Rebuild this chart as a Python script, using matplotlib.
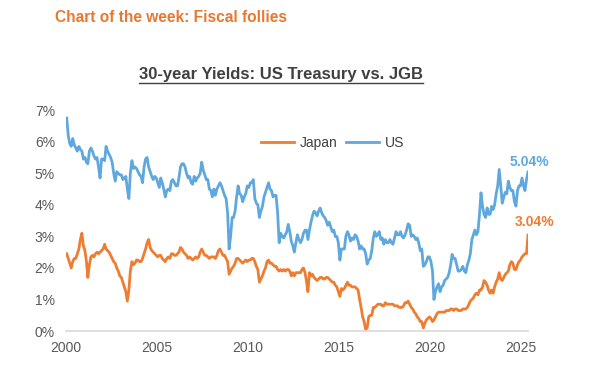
import numpy as np
import pandas as pd
import matplotlib
matplotlib.use('Agg')
import matplotlib.pyplot as plt
from matplotlib.lines import Line2D

plt.rcParams['font.family'] = ['Liberation Sans', 'DejaVu Sans']

# monthly readings, Jan 2000 .. May 2025 (mid-month)
dates = pd.date_range('2000-01-01', '2025-05-01', freq='MS') + pd.Timedelta(days=14)

us_yield = [
    6.75, 6.20, 5.95, 5.85, 6.10, 5.90, 5.80, 5.70, 5.85, 5.75, 5.70, 5.45,  # 2000
    5.50, 5.35, 5.30, 5.70, 5.80, 5.70, 5.55, 5.45, 5.50, 5.20, 4.85, 5.45,  # 2001
    5.45, 5.40, 5.85, 5.70, 5.60, 5.50, 5.35, 5.00, 4.75, 5.05, 5.00, 4.95,  # 2002
    4.95, 4.80, 4.85, 4.90, 4.50, 4.20, 5.00, 5.40, 5.15, 5.20, 5.15, 5.05,  # 2003
    4.95, 4.90, 4.70, 5.20, 5.45, 5.50, 5.20, 5.05, 4.90, 4.80, 4.90, 4.85,  # 2004
    4.70, 4.55, 4.85, 4.70, 4.50, 4.25, 4.45, 4.50, 4.45, 4.75, 4.80, 4.70,  # 2005
    4.60, 4.60, 4.85, 5.20, 5.30, 5.30, 5.20, 5.00, 4.85, 4.90, 4.70, 4.65,  # 2006
    4.90, 4.75, 4.85, 4.90, 5.00, 5.35, 5.10, 4.95, 4.80, 4.80, 4.50, 4.45,  # 2007
    4.25, 4.50, 4.30, 4.50, 4.60, 4.70, 4.60, 4.45, 4.30, 4.20, 3.75, 2.60,  # 2008
    3.00, 3.60, 3.60, 3.80, 4.25, 4.60, 4.35, 4.30, 4.10, 4.25, 4.35, 4.60,  # 2009
    4.55, 4.70, 4.70, 4.80, 4.20, 4.05, 4.00, 3.60, 3.80, 3.95, 4.25, 4.40,  # 2010
    4.55, 4.70, 4.50, 4.45, 4.25, 4.30, 4.30, 3.75, 2.80, 3.10, 3.00, 2.95,  # 2011
    3.05, 3.15, 3.38, 3.15, 2.85, 2.70, 2.50, 2.80, 3.05, 2.90, 2.80, 2.90,  # 2012
    3.10, 3.20, 3.20, 2.90, 3.20, 3.45, 3.65, 3.80, 3.75, 3.65, 3.80, 3.90,  # 2013
    3.75, 3.65, 3.60, 3.50, 3.35, 3.45, 3.30, 3.15, 3.20, 3.00, 3.00, 2.80,  # 2014
    2.25, 2.60, 2.60, 2.60, 3.00, 3.15, 3.05, 2.85, 2.95, 2.90, 3.05, 3.00,  # 2015
    2.85, 2.60, 2.70, 2.60, 2.60, 2.45, 2.12, 2.25, 2.30, 2.55, 2.95, 3.15,  # 2016
    3.00, 3.05, 3.15, 2.90, 2.95, 2.75, 2.90, 2.80, 2.80, 2.90, 2.80, 2.75,  # 2017
    2.95, 3.15, 3.05, 3.05, 3.15, 3.00, 2.95, 3.05, 3.20, 3.40, 3.35, 3.00,  # 2018
    3.05, 3.00, 2.90, 2.95, 2.80, 2.55, 2.60, 2.05, 2.10, 2.20, 2.35, 2.35,  # 2019
    2.20, 1.90, 1.00, 1.25, 1.40, 1.50, 1.25, 1.40, 1.45, 1.60, 1.65, 1.70,  # 2020
    1.85, 2.10, 2.43, 2.30, 2.30, 2.10, 1.90, 1.90, 1.95, 2.05, 1.90, 1.85,  # 2021
    2.10, 2.25, 2.45, 2.90, 3.05, 3.20, 3.05, 3.15, 3.70, 4.38, 3.95, 3.70,  # 2022
    3.60, 3.90, 3.70, 3.70, 3.95, 3.85, 4.00, 4.35, 4.60, 5.12, 4.60, 4.05,  # 2023
    4.25, 4.40, 4.35, 4.75, 4.55, 4.45, 4.45, 4.10, 3.96, 4.45, 4.60, 4.60,  # 2024
    4.85, 4.60, 4.45, 4.80, 5.04,                                            # 2025
]

japan_yield = [
    2.45, 2.30, 2.15, 2.00, 2.20, 2.30, 2.30, 2.45, 2.60, 2.90, 3.10, 2.70,  # 2000
    2.55, 2.20, 1.70, 2.10, 2.35, 2.40, 2.35, 2.45, 2.50, 2.45, 2.50, 2.55,  # 2001
    2.60, 2.75, 2.60, 2.55, 2.50, 2.40, 2.30, 2.20, 2.15, 2.00, 1.90, 1.75,  # 2002
    1.70, 1.55, 1.40, 1.25, 0.95, 1.30, 1.90, 2.20, 2.10, 2.15, 2.25, 2.25,  # 2003
    2.20, 2.20, 2.30, 2.45, 2.60, 2.80, 2.90, 2.65, 2.55, 2.50, 2.45, 2.40,  # 2004
    2.35, 2.40, 2.40, 2.30, 2.25, 2.20, 2.30, 2.35, 2.30, 2.45, 2.45, 2.40,  # 2005
    2.40, 2.45, 2.50, 2.65, 2.60, 2.50, 2.45, 2.40, 2.30, 2.35, 2.30, 2.25,  # 2006
    2.30, 2.35, 2.30, 2.35, 2.50, 2.60, 2.50, 2.40, 2.40, 2.35, 2.30, 2.35,  # 2007
    2.35, 2.35, 2.30, 2.40, 2.55, 2.60, 2.50, 2.40, 2.40, 2.30, 2.20, 1.80,  # 2008
    1.90, 2.00, 2.05, 2.15, 2.30, 2.30, 2.25, 2.20, 2.15, 2.20, 2.25, 2.20,  # 2009
    2.25, 2.25, 2.30, 2.30, 2.20, 2.05, 1.95, 1.55, 1.65, 1.75, 1.90, 2.00,  # 2010
    2.20, 2.25, 2.15, 2.15, 2.10, 2.05, 2.05, 1.95, 1.90, 1.95, 1.90, 1.95,  # 2011
    1.90, 1.95, 1.95, 1.90, 1.75, 1.85, 1.75, 1.85, 1.85, 1.85, 1.85, 1.95,  # 2012
    2.00, 1.85, 1.60, 1.25, 1.85, 1.75, 1.80, 1.70, 1.65, 1.60, 1.65, 1.70,  # 2013
    1.70, 1.65, 1.65, 1.70, 1.70, 1.65, 1.60, 1.55, 1.55, 1.45, 1.40, 1.25,  # 2014
    1.10, 1.35, 1.30, 1.35, 1.45, 1.55, 1.45, 1.45, 1.40, 1.40, 1.40, 1.35,  # 2015
    1.30, 1.00, 0.75, 0.45, 0.30, 0.05, 0.10, 0.45, 0.50, 0.50, 0.75, 0.75,  # 2016
    0.80, 0.85, 0.85, 0.85, 0.80, 0.80, 0.90, 0.85, 0.85, 0.85, 0.85, 0.85,  # 2017
    0.80, 0.80, 0.80, 0.75, 0.75, 0.75, 0.80, 0.90, 0.90, 0.95, 0.85, 0.75,  # 2018
    0.70, 0.60, 0.55, 0.45, 0.40, 0.30, 0.30, 0.10, 0.25, 0.35, 0.40, 0.45,  # 2019
    0.40, 0.30, 0.35, 0.45, 0.55, 0.60, 0.60, 0.60, 0.60, 0.60, 0.65, 0.65,  # 2020
    0.65, 0.70, 0.70, 0.65, 0.70, 0.70, 0.65, 0.65, 0.65, 0.70, 0.70, 0.70,  # 2021
    0.75, 0.85, 0.95, 1.00, 1.05, 1.15, 1.20, 1.15, 1.30, 1.30, 1.40, 1.60,  # 2022
    1.55, 1.45, 1.30, 1.20, 1.30, 1.20, 1.40, 1.55, 1.65, 1.85, 1.65, 1.60,  # 2023
    1.70, 1.80, 1.85, 1.90, 2.10, 2.20, 2.15, 1.95, 1.95, 2.10, 2.20, 2.25,  # 2024
    2.35, 2.40, 2.45, 2.45, 3.04,                                            # 2025
]

year_ticks = [2000, 2005, 2010, 2015, 2020, 2025]
pct_ticks = [0, 1, 2, 3, 4, 5, 6, 7]

orange = '#ED7D31'
blue = '#5FA8DE'
grey = '#595959'

t = dates.year + (dates.dayofyear - 1) / 365.25

fig = plt.figure(figsize=(6, 3.72), dpi=100)
ax = fig.add_axes([0.11, 0.11, 0.77, 0.594])

ax.plot(t, japan_yield, color=orange, lw=2.0, label='Japan')
ax.plot(t, us_yield, color=blue, lw=2.0, label='US')

ax.set_xlim(2000, t[-1])
ax.set_ylim(0, 7)
ax.set_xticks(year_ticks)
ax.set_yticks(pct_ticks)
ax.set_yticklabels([f'{p}%' for p in pct_ticks])
ax.tick_params(length=0, labelsize=10, labelcolor=grey)
ax.tick_params(axis='x', pad=7)
ax.tick_params(axis='y', pad=8)
for s in ['top', 'right', 'left']:
    ax.spines[s].set_visible(False)
ax.spines['bottom'].set_color('#D9D9D9')
ax.spines['bottom'].set_linewidth(1.2)

ax.legend(loc='center', bbox_to_anchor=(0.554, 0.616), bbox_transform=fig.transFigure,
          ncol=2, frameon=False, fontsize=10, handlelength=2.4, columnspacing=0.6,
          handletextpad=0.4, labelcolor='#404040')

ax.annotate(f'{us_yield[-1]:.2f}%', (t[-1], us_yield[-1]), xytext=(1, 7.5),
            textcoords='offset points', ha='center', va='center',
            color=blue, fontsize=10, fontweight='bold')
ax.annotate(f'{japan_yield[-1]:.2f}%', (t[-1], japan_yield[-1]), xytext=(4.5, 9.5),
            textcoords='offset points', ha='center', va='center',
            color=orange, fontsize=10, fontweight='bold')

fig.text(0.092, 0.954, 'Chart of the week: Fiscal follies', color='#E8782F',
         fontsize=11.2, fontweight='bold', ha='left', va='center')
sub = fig.text(0.468, 0.801, '30-year Yields: US Treasury vs. JGB', color='#404040',
               fontsize=12, fontweight='bold', ha='center', va='center')

# underline the subtitle
fig.canvas.draw()
bb = sub.get_window_extent(fig.canvas.get_renderer())
fig.add_artist(Line2D([bb.x0, bb.x1], [bb.y0 - 1, bb.y0 - 1], color='#404040',
                      lw=1.0, transform=None))

fig.savefig('out.png', dpi=100)
